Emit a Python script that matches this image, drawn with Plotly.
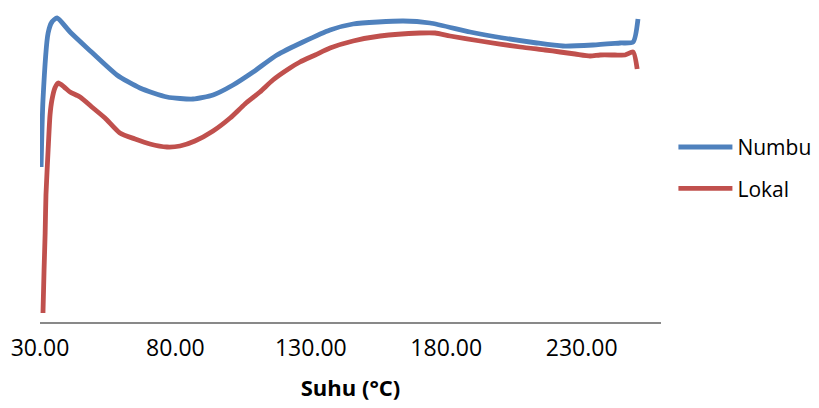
import plotly.graph_objects as go

# Temperature (°C) and signal (arbitrary units)
numbu_t = [30.4, 31.1, 33.0, 34.4, 36.3, 41.1, 47.4, 58.4, 66.9, 76.9, 86.5, 93.9,
           101.3, 108.7, 117.5, 127.1, 137.1, 145.6, 164.1, 174.0, 188.8, 201.0,
           213.5, 223.1, 234.2, 244.2, 249.0, 250.8]
numbu_v = [155, 222, 289, 300, 304, 290, 274, 247, 234, 225, 223, 227,
           237, 250, 267, 280, 292, 298, 301, 299, 290, 284,
           279, 276, 277, 279, 280, 303]

lokal_t = [31.1, 31.5, 31.9, 32.2, 33.0, 33.7, 34.4, 35.5, 36.7, 38.9, 41.1, 44.8,
           49.6, 54.0, 59.5, 65.1, 70.6, 76.9, 81.7, 87.2, 93.9, 100.2, 105.7,
           111.2, 116.0, 122.3, 126.0, 131.6, 137.1, 145.6, 155.6, 170.3, 175.9,
           181.4, 192.5, 207.3, 216.5, 222.0, 227.6, 233.1, 236.8, 242.3, 246.0,
           249.0, 250.5]
lokal_v = [9, 52, 89, 127, 172, 207, 222, 234, 239, 235, 230, 225,
           214, 204, 189, 183, 178, 175, 176, 181, 191, 204, 218,
           230, 242, 254, 260, 267, 274, 281, 286, 289, 289,
           286, 281, 275, 272, 270, 268, 266, 267, 267, 267,
           270, 253]

tick_vals = [30, 80, 130, 180, 230]
tick_text = ["30.00", "80.00", "130.00", "180.00", "230.00"]

FONT = "Open Sans"

fig = go.Figure()
fig.add_trace(go.Scatter(x=numbu_t, y=numbu_v, mode="lines", name="Numbu",
                         legendgroup="a",
                         line=dict(color="#4F81BD", width=4.8, shape="spline", smoothing=0.6)))
fig.add_trace(go.Scatter(x=lokal_t, y=lokal_v, mode="lines", name="Lokal",
                         legendgroup="b",
                         line=dict(color="#C0504D", width=4.8, shape="spline", smoothing=0.6)))

# the page body adds an 8px margin, so the figure is 8px smaller than the window
fig.update_layout(
    width=811, height=400,
    margin=dict(l=32, r=158, t=2, b=86, autoexpand=False),
    paper_bgcolor="white", plot_bgcolor="white",
    font=dict(family=FONT, size=23, color="black"),
    showlegend=True,
    legend=dict(x=1.02, xanchor="left", y=0.494, yanchor="middle",
                traceorder="grouped", tracegroupgap=11, itemwidth=54,
                font=dict(family=FONT, size=21, color="black"),
                bgcolor="rgba(0,0,0,0)"),
    xaxis=dict(range=[30, 259.3], tickvals=tick_vals, ticktext=tick_text,
               automargin=False,
               showline=True, linecolor="#898989", linewidth=2,
               showgrid=False, zeroline=False, ticks="",
               ticklabelstandoff=4,
               tickfont=dict(family=FONT, size=23, color="black"),
               title=dict(text="<b>Suhu (°C)</b>", standoff=19,
                          font=dict(family=FONT, size=22, color="black"))),
    yaxis=dict(range=[0, 312], visible=False, showgrid=False, zeroline=False,
               automargin=False),
)

fig.write_html("out.html")
